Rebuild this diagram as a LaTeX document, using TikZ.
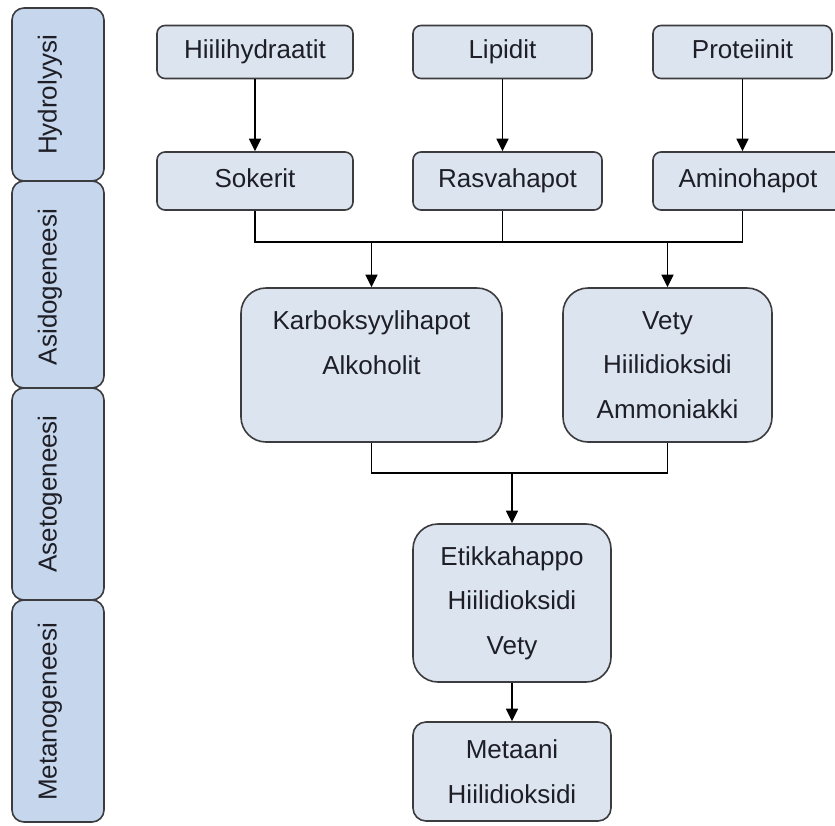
\documentclass[tikz,border=0pt]{standalone}
\usepackage{fontspec}
\setmainfont{Liberation Sans}
\usetikzlibrary{arrows.meta}
\definecolor{phasefill}{RGB}{198,214,236}
\definecolor{boxfill}{RGB}{220,228,240}
\definecolor{bordergray}{RGB}{60,60,62}
\definecolor{textcol}{RGB}{30,30,38}
\tikzset{
  box/.style={draw=bordergray, line width=1.6pt, fill=boxfill, inner sep=0pt,
    align=center, text=textcol, font=\fontsize{26}{44.5}\selectfont},
  onebox/.style={box, rounded corners=8pt, text height=19pt, text depth=5.5pt},
  phase/.style={draw=bordergray, line width=1.6pt, fill=phasefill, inner sep=0pt,
    rounded corners=12pt, minimum width=92pt},
  phasetext/.style={rotate=90, inner sep=0pt, text=textcol, font=\fontsize{26}{30}\selectfont},
  conn/.style={line width=1.5pt, black},
  arr/.style={conn, -{Triangle[length=12.5pt,width=12pt]}}
}
\begin{document}
\begin{tikzpicture}[x=1pt,y=-1pt]
\useasboundingbox (0,0) rectangle (835,825);
\fill[white] (0,0) rectangle (835,825);
% phase column
\node[phase, minimum height=173pt] (hyd) at (58,94.5) {};
\node[phase, minimum height=207pt] (asi) at (58,284.5) {};
\node[phase, minimum height=212pt] (ase) at (58,494) {};
\node[phase, minimum height=222pt] (met) at (58,711) {};
\node[phasetext] (thyd) at (50,95) {Hydrolyysi};
\node[phasetext] (tasi) at (50,287) {Asidogeneesi};
\node[phasetext] (tase) at (50,494) {Asetogeneesi};
\node[phasetext] (tmet) at (50,712) {Metanogeneesi};
% top row
\node[onebox, minimum width=196pt, minimum height=53pt] (hh) at (255,52) {Hiilihydraatit};
\node[onebox, minimum width=179pt, minimum height=53pt] (lip) at (502.5,52) {Lipidit};
\node[onebox, minimum width=179pt, minimum height=53pt] (pro) at (742.5,52) {Proteiinit};
% second row
\node[onebox, minimum width=196pt, minimum height=58pt] (sok) at (255,181) {Sokerit};
\node[onebox, minimum width=189pt, minimum height=58pt] (ras) at (507.5,181) {Rasvahapot};
\node[onebox, minimum width=190pt, minimum height=58pt] (ami) at (748,181) {Aminohapot};
% third row
\node[box, rounded corners=25pt, minimum width=261pt, minimum height=154pt] (kar) at (371.5,365) {Karboksyylihapot\\Alkoholit\\\vphantom{A}};
\node[box, rounded corners=25pt, minimum width=209pt, minimum height=154pt] (vety) at (667.5,365) {Vety\\Hiilidioksidi\\Ammoniakki};
% fourth row
\node[box, rounded corners=25pt, minimum width=198pt, minimum height=158pt] (eti) at (512,603) {Etikkahappo\\Hiilidioksidi\\Vety};
\node[box, rounded corners=13pt, minimum width=198pt, minimum height=99pt] (meta) at (512,771.5) {Metaani\\Hiilidioksidi};
% bus coordinates
\coordinate (bus1) at (0,242);
\coordinate (bus2) at (0,473);
% hydrolysis arrows
\draw[arr] (hh) -- (sok);
\draw[arr] (lip.south) -- (lip.south |- ras.north);
\draw[arr] (pro.south) -- (pro.south |- ami.north);
% first bus
\draw[conn] (sok.south) -- (sok.south |- bus1) -- (bus1 -| pro.south) -- (ami.south -| pro.south);
\draw[conn] (ras.south -| lip.south) -- (bus1 -| lip.south);
\draw[arr] (bus1 -| kar.north) -- (kar.north);
\draw[arr] (bus1 -| vety.north) -- (vety.north);
% second bus
\draw[conn] (kar.south) -- (kar.south |- bus2) -- (bus2 -| vety.south) -- (vety.south);
\draw[arr] (bus2 -| eti.north) -- (eti.north);
\draw[arr] (eti) -- (meta);
\end{tikzpicture}
\end{document}
